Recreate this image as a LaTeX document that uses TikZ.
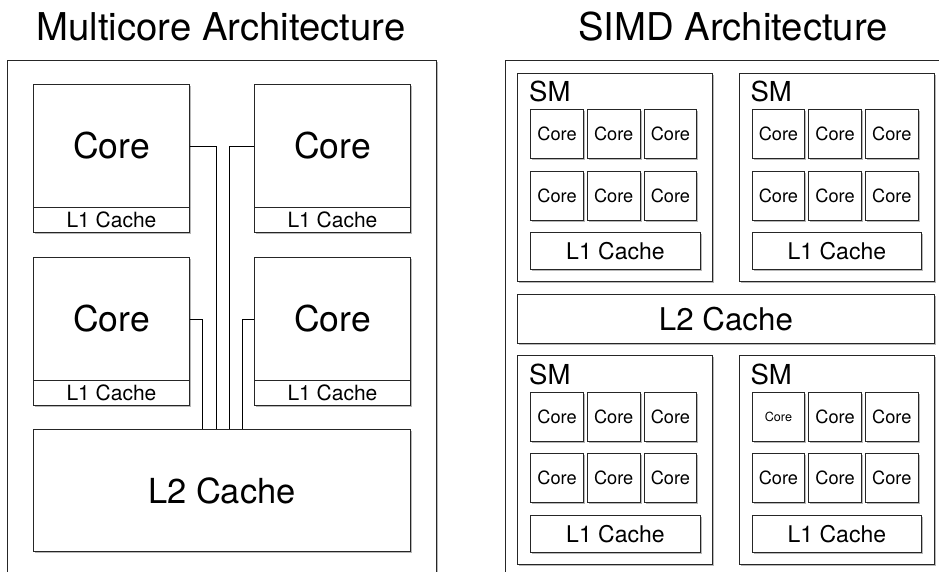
\documentclass[tikz,border=0pt]{standalone}
\usepackage{fontspec}
\setmainfont{TeX Gyre Heros}
\usetikzlibrary{shadows}
\newcommand{\fs}[1]{\fontsize{#1}{#1}\selectfont}
\tikzset{
  blk/.style={draw=black!85, line width=0.9pt, fill=white, inner sep=0pt,
    anchor=north west,
    drop shadow={shadow xshift=1.6pt, shadow yshift=-1.6pt, fill=black, opacity=0.28}},
  wire/.style={draw=black, line width=0.9pt},
  title/.style={anchor=base, inner sep=0pt, font=\fs{38.3}},
}
\begin{document}
\begin{tikzpicture}[x=1pt, y=-1pt]
\useasboundingbox (0,0) rectangle (939,571);
\clip (0,0) rectangle (939,571);

% ---------------- Multicore ----------------
\node[title] (t1) at (221,40.7) {Multicore Architecture};
\node[blk, minimum width=429pt, minimum height=530pt] (mframe) at (7,60) {};

\foreach \n/\x/\y in {1/33/84, 2/254/84, 3/33/257, 4/254/257}{
  \node[blk, minimum width=156pt, minimum height=123pt, font=\fs{35.5}] (c\n) at (\x,\y) {Core};
  \node[blk, minimum width=156pt, minimum height=25pt, font=\fs{21}] (l\n) at (\x,\y+123) {L1 Cache};
}
\node[blk, minimum width=377pt, minimum height=122pt, font=\fs{34.5}] (ml2) at (33,429) {L2 Cache};

\coordinate (b1) at (216,0);
\coordinate (b2) at (229,0);
\coordinate (b3) at (202,0);
\coordinate (b4) at (242,0);
\draw[wire] (c1.east) -| (b1 |- ml2.north);
\draw[wire] (c2.west) -| (b2 |- ml2.north);
\draw[wire] (c3.east) -| (b3 |- ml2.north);
\draw[wire] (c4.west) -| (b4 |- ml2.north);

% ---------------- SIMD ----------------
\node[title] (t2) at (733,40.7) {SIMD Architecture};
\node[blk, minimum width=460pt, minimum height=530pt] (sframe) at (505,60) {};

\node[blk, minimum width=416.4pt, minimum height=48.7pt, font=\fs{31.3}] (sl2) at (517.3,294) {L2 Cache};

\foreach \s/\x/\y in {1/517.3/72.7, 2/738.7/72.7, 3/517.3/355.3, 4/738.7/355.3}{
  \node[blk, minimum width=195pt, minimum height=208.3pt] (sm\s) at (\x,\y) {};
  \node[anchor=base west, inner sep=0pt, font=\fs{27.5}] (sml\s) at (\x+11.7,\y+29) {SM};
  \foreach \r/\ry in {1/36.6, 2/98}{
    \foreach \c/\cx in {1/13, 2/69.7, 3/126.4}{
      \node[blk, minimum width=52.5pt, minimum height=49pt, font=\fs{18.2}]
        (sm\s c\r\c) at (\x+\cx,\y+\ry)
        {\ifnum\s\r\c=411 \fs{12.6}\fi Core};
    }
  }
  \node[blk, minimum width=169.4pt, minimum height=37.3pt, font=\fs{23}] (sm\s l1) at (\x+13,\y+159.3) {L1 Cache};
}
\end{tikzpicture}
\end{document}
